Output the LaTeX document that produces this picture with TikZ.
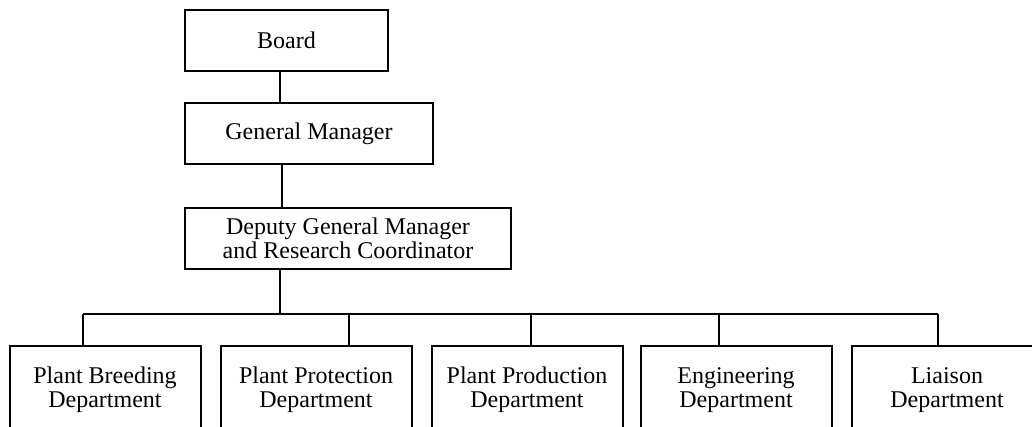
\documentclass[tikz,border=0pt]{standalone}
\usepackage{fontspec}
\setmainfont{Liberation Serif}
\begin{document}
\begin{tikzpicture}[x=1pt,y=-1pt,
  every node/.style={font=\fontsize{24}{24}\selectfont},
  boxnode/.style={draw, line width=2pt, rectangle, align=center, inner sep=0pt, minimum height=61pt},
  deptbox/.style={draw, line width=2pt, rectangle, align=center, inner sep=0pt, minimum width=191pt, minimum height=88pt},
  link/.style={line width=2pt},
  buslink/.style={line width=1.7pt}]
\useasboundingbox (0,0) rectangle (1032,426);
\clip (0,0) rectangle (1032,426);
\node[boxnode, minimum width=203pt] (board) at (286.5,40.5) {Board};
\node[boxnode, minimum width=248pt] (gm) at (309,133.5) {General Manager};
\node[boxnode, minimum width=326pt] (dep) at (348,238.5) {Deputy General Manager\\and Research Coordinator};
\node[deptbox] (b1) at (105,390) {Plant Breeding\\Department};
\node[deptbox] (b2) at (316,390) {Plant Protection\\Department};
\node[deptbox] (b3) at (527,390) {Plant Production\\Department};
\node[deptbox] (b4) at (736,390) {Engineering\\Department};
\node[deptbox] (b5) at (947,390) {Liaison\\Department};
\coordinate (c1) at (280,0);
\coordinate (c2) at (282,0);
\coordinate (top) at (280,314);
\coordinate (d1) at (83,314);
\coordinate (d2) at (349,314);
\coordinate (d3) at (531,314);
\coordinate (d4) at (719,314);
\coordinate (d5) at (938,314);
\draw[link] (board.south -| c1) -- (gm.north -| c1);
\draw[link] (gm.south -| c2) -- (dep.north -| c2);
\draw[link] (dep.south -| top) -- (top);
\draw[buslink] (d1) -- (d5);
\foreach \i in {1,...,5} {
  \draw[buslink] (d\i) -- (b\i.north -| d\i);
}
\end{tikzpicture}
\end{document}
